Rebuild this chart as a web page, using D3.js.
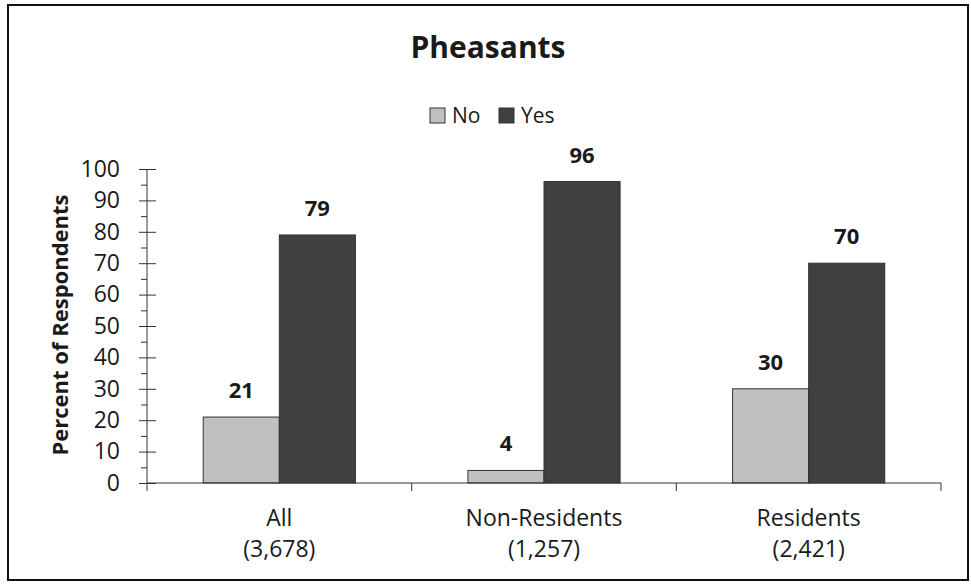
<!DOCTYPE html>
<html><head><meta charset="utf-8">
<script src="https://cdn.jsdelivr.net/npm/d3@7"></script>
<style>body{margin:0;background:#fff}svg{display:block}text{font-family:"Open Sans",Lato,sans-serif;fill:#1a1a1a}</style>
</head><body><svg id="c" width="971" height="584"></svg>
<script>
const categories = ["All", "Non-Residents", "Residents"];
const sampleSizes = ["(3,678)", "(1,257)", "(2,421)"];
const seriesNames = ["No", "Yes"];
const noValues = [21, 4, 30];
const yesValues = [79, 96, 70];
const yTicks = [0,10,20,30,40,50,60,70,80,90,100];
const yMinorTicks = [5,15,25,35,45,55,65,75,85,95];
const colors = {No:"#c0c0c0", Yes:"#404040"};

const svg = d3.select("#c");
const L = 147, R = 941, T = 169, B = 483;

svg.append("rect").attr("x",8).attr("y",5).attr("width",960).attr("height",575)
  .attr("fill","#fff").attr("stroke","#111").attr("stroke-width",2);

const x = d3.scaleBand().domain(categories).range([L,R]).paddingInner(0).paddingOuter(0);
const groupFrac = 0.575;
const x1 = d3.scaleBand().domain(seriesNames)
  .range([0, x.bandwidth()*groupFrac]);
const y = d3.scaleLinear().domain([0,100]).range([B,T]);

const data = categories.map((c,i)=>({cat:c, vals:[{s:"No",v:noValues[i]},{s:"Yes",v:yesValues[i]}]}));
const off = x.bandwidth()*(1-groupFrac)/2;

const g = svg.append("g");
const groups = g.selectAll("g.grp").data(data).join("g")
  .attr("transform", d=>`translate(${x(d.cat)+off},0)`);
groups.selectAll("rect").data(d=>d.vals).join("rect")
  .attr("x", d=>x1(d.s)).attr("y", d=>y(d.v))
  .attr("width", x1.bandwidth()).attr("height", d=>B-y(d.v))
  .attr("fill", d=>colors[d.s]).attr("stroke","#333").attr("stroke-width",1);
groups.selectAll("text").data(d=>d.vals).join("text")
  .attr("x", d=>x1(d.s)+x1.bandwidth()/2).attr("y", d=>y(d.v)-19)
  .attr("text-anchor","middle").attr("font-weight","bold").attr("font-size",22)
  .text(d=>d.v);

// Y axis
const yAxis = svg.append("g").attr("transform",`translate(${L},0)`)
  .call(d3.axisLeft(y).tickValues(yTicks).tickSize(8).tickPadding(19));
yAxis.select(".domain").remove();
yAxis.selectAll("text").attr("font-size",23).style("font-family","'Open Sans',Lato,sans-serif").attr("fill","#1a1a1a");
yAxis.selectAll("line").attr("stroke","#333");
const yAxisR = svg.append("g").attr("transform",`translate(${L},0)`)
  .call(d3.axisRight(y).tickValues(yTicks).tickSize(9).tickFormat(""));
yAxisR.select(".domain").remove();
yAxisR.selectAll("line").attr("stroke","#333");
const yMinor = svg.append("g").attr("transform",`translate(${L},0)`)
  .call(d3.axisLeft(y).tickValues(yMinorTicks).tickSize(6).tickFormat(""));
yMinor.select(".domain").remove();
yMinor.selectAll("line").attr("stroke","#333");
svg.append("line").attr("x1",L).attr("x2",L).attr("y1",T).attr("y2",B+8).attr("stroke","#333");

// X axis
svg.append("line").attr("x1",L).attr("x2",R).attr("y1",B).attr("y2",B).attr("stroke","#333");
const bounds = categories.map(c=>x(c)+x.step());
svg.append("g").selectAll("line").data(bounds).join("line")
  .attr("x1",d=>d).attr("x2",d=>d).attr("y1",B).attr("y2",B+8).attr("stroke","#333");
const xl = svg.append("g").selectAll("text").data(categories).join("text")
  .attr("x", d=>x(d)+x.bandwidth()/2).attr("text-anchor","middle").attr("font-size",23);
xl.append("tspan").attr("x", d=>x(d)+x.bandwidth()/2).attr("y",526).text(d=>d);
xl.append("tspan").attr("x", d=>x(d)+x.bandwidth()/2).attr("y",557).text((d,i)=>sampleSizes[i]);

// Y title
svg.append("text").attr("transform",`translate(68,325) rotate(-90)`)
  .attr("text-anchor","middle").attr("font-weight","bold").attr("font-size",22)
  .text("Percent of Respondents");

// Title
svg.append("text").attr("x",488).attr("y",58).attr("text-anchor","middle")
  .attr("font-weight","bold").attr("font-size",30).text("Pheasants");

// Legend
const leg = svg.append("g");
const legX = [430, 499];
seriesNames.forEach((s,i)=>{
  leg.append("rect").attr("x",legX[i]).attr("y",108).attr("width",15).attr("height",15)
    .attr("fill",colors[s]).attr("stroke","#333");
  leg.append("text").attr("x",legX[i]+22).attr("y",123).attr("font-size",21).text(s);
});
</script></body></html>
